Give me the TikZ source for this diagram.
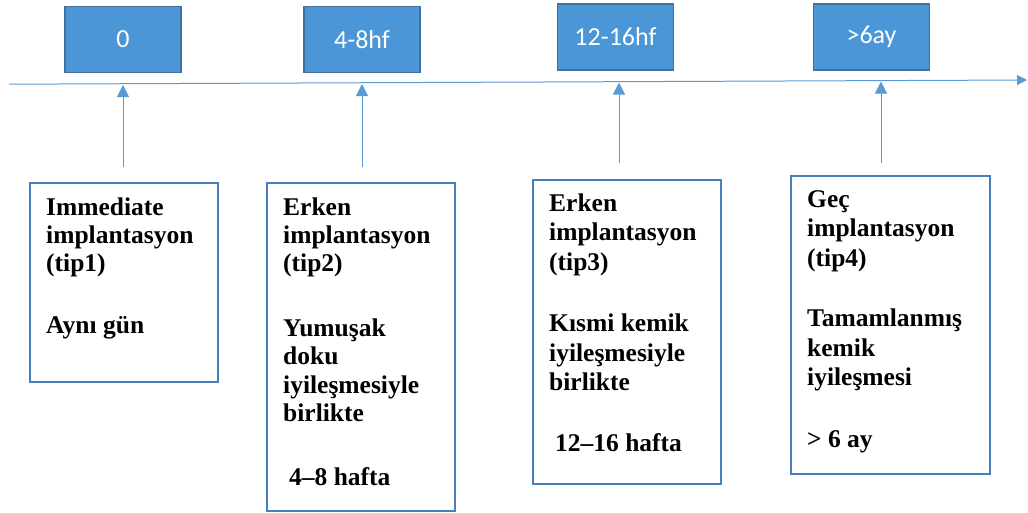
\documentclass[tikz,border=0pt]{standalone}
\usepackage{fontspec}
\setmainfont{Liberation Serif}
\newfontfamily\calib{Carlito}
\usetikzlibrary{arrows.meta}
\definecolor{topfill}{RGB}{74,150,214}
\definecolor{topdraw}{RGB}{65,113,156}
\definecolor{linec}{RGB}{91,155,213}
\definecolor{boxdraw}{RGB}{74,126,187}
\tikzset{
  topbox/.style={draw=topdraw, fill=topfill, line width=1.6pt, minimum width=116pt, minimum height=66pt, inner sep=0pt, text=white, font=\calib\fontsize{26}{30}\selectfont},
  infobox/.style={draw=boxdraw, line width=1.8pt, anchor=north west, inner sep=0pt},
  infotext/.style={anchor=base west, inner sep=0pt, font=\bfseries\fontsize{25.5}{28.4}\selectfont},
  infotextb/.style={anchor=base west, inner sep=0pt, font=\bfseries\fontsize{25.5}{29.5}\selectfont},
  timeline/.style={draw=linec, line width=1pt, -{Triangle[width=10pt,length=10pt]}},
  uparrow/.style={draw=linec, line width=1pt, -{Triangle[width=12pt,length=12pt]}}
}
\begin{document}
\begin{tikzpicture}[x=1pt,y=-1pt]
\useasboundingbox (0,0) rectangle (1028,512);
% timeline
\coordinate (L) at (9,84.2);
\coordinate (R) at (1027,80);
\draw[timeline] (L) -- (R);
% top boxes
\node[topbox] (b0) at (123,39.5) {0};
\node[topbox] (b1) at (362,39.5) {4-8hf};
\node[topbox] (b2) at (615.5,37) {12-16hf};
\node[topbox] (b3) at (871.5,37) {>6ay};
% up arrows
\coordinate (a1) at (123,167); \coordinate (t1) at (123,85);
\coordinate (a2) at (362,167); \coordinate (t2) at (362,84);
\coordinate (a3) at (619,163); \coordinate (t3) at (619,82.5);
\coordinate (a4) at (881,163); \coordinate (t4) at (881,81.5);
\draw[uparrow] (a1) -- (t1);
\draw[uparrow] (a2) -- (t2);
\draw[uparrow] (a3) -- (t3);
\draw[uparrow] (a4) -- (t4);
% bottom boxes
\node[infobox, minimum width=188pt, minimum height=199pt] (c1) at (29,182) {};
\node[infobox, minimum width=188pt, minimum height=328pt] (c2) at (266,182) {};
\node[infobox, minimum width=188pt, minimum height=304pt] (c3) at (532,179) {};
\node[infobox, minimum width=199pt, minimum height=298pt] (c4) at (790,175) {};
% texts
\node[infotext] (x1) at (46,215) {\parbox[t]{165pt}{\raggedright Immediate\\implantasyon\\(tip1)\\[33pt]Aynı gün}};
\node[infotext] (x2) at (283,215) {\parbox[t]{165pt}{\raggedright Erken\\implantasyon\\(tip2)\\[36pt]Yumuşak\\doku\\iyileşmesiyle\\birlikte\\[36pt]\hspace*{6pt}4–8 hafta}};
\node[infotextb] (x3) at (549,211) {\parbox[t]{165pt}{\raggedright Erken\\implantasyon\\(tip3)\\[32pt]Kısmi kemik\\iyileşmesiyle\\birlikte\\[31pt]\hspace*{6pt}12–16 hafta}};
\node[infotextb] (x4) at (807,207) {\parbox[t]{175pt}{\raggedright Geç\\implantasyon\\(tip4)\\[31pt]Tamamlanmış\\kemik\\iyileşmesi\\[32pt]> 6 ay}};
\end{tikzpicture}
\end{document}
